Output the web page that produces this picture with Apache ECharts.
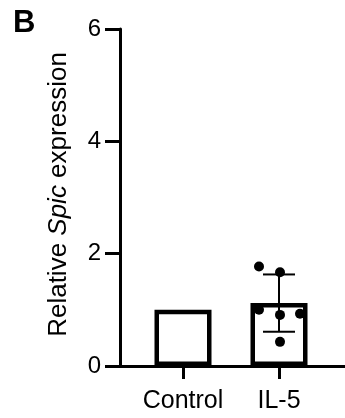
<!DOCTYPE html>
<html>
<head>
<meta charset="utf-8">
<script src="https://cdn.jsdelivr.net/npm/echarts@6/dist/echarts.min.js"></script>
<style>
  html, body { margin: 0; padding: 0; background: #fff; }
  #chart { width: 345px; height: 418px; }
</style>
</head>
<body>
<div id="chart"></div>
<script>
// Groups on the x axis
const categories = ['Control', 'IL-5'];
// Bar heights (group means) and standard deviations
const means = [1.0, 1.12];
const sds = [0, 0.51];
// Individual IL-5 replicates
const il5Points = [1.77, 1.67, 1.0, 0.91, 0.93, 0.43];
// Horizontal spread of the replicate dots (px)
const il5Jitter = [-20, 1, -20, 1, 21, 1];
// Y axis range and tick step
const yMin = 0, yMax = 6, yStep = 2;

const FONT = 'Liberation Sans, Arial, Helvetica, sans-serif';
const chart = echarts.init(document.getElementById('chart'), null, { renderer: 'canvas' });

const option = {
  animation: false,
  backgroundColor: '#fff',
  title: {
    text: 'B', left: 8, top: 3,
    textStyle: { fontFamily: FONT, fontWeight: 'bold', fontSize: 31, color: '#000' }
  },
  grid: [
    { left: 120, right: 0, top: 29, bottom: 52 },
    { left: 135, right: 18, top: 29, bottom: 52 }
  ],
  xAxis: [
    {
      gridIndex: 0, type: 'value', min: 0, max: 1,
      axisLine: { show: true, onZero: false, lineStyle: { color: '#000', width: 3 } },
      axisTick: { show: false }, axisLabel: { show: false }, splitLine: { show: false }
    },
    {
      gridIndex: 1, type: 'category', data: categories,
      axisLine: { show: false },
      axisTick: { show: true, alignWithLabel: true, length: 13, lineStyle: { color: '#000', width: 3 } },
      axisLabel: { interval: 0, margin: 23, fontFamily: FONT, fontSize: 25, color: '#000' },
      splitLine: { show: false }
    }
  ],
  yAxis: [
    {
      gridIndex: 0, type: 'value', min: yMin, max: yMax, interval: yStep,
      axisLine: { show: true, lineStyle: { color: '#000', width: 3 } },
      axisTick: { show: true, length: 15, lineStyle: { color: '#000', width: 3 } },
      axisLabel: { margin: 19, fontFamily: FONT, fontSize: 24, color: '#000' },
      splitLine: { show: false },
      name: '{n|Relative }{i|Spic}{n| expression}',
      nameLocation: 'middle', nameGap: 48, nameRotate: 90,
      nameTextStyle: {
        fontFamily: FONT, fontSize: 26, color: '#000', padding: [0, 0, 0, 6],
        rich: {
          n: { fontFamily: FONT, fontSize: 26, color: '#000' },
          i: { fontFamily: FONT, fontSize: 26, color: '#000', fontStyle: 'italic' }
        }
      }
    },
    {
      gridIndex: 1, type: 'value', min: yMin, max: yMax, show: false
    }
  ],
  series: [
    {
      type: 'bar', xAxisIndex: 1, yAxisIndex: 1,
      data: means, barWidth: 57,
      itemStyle: { color: '#fff', borderColor: '#000', borderWidth: 4.5 },
      z: 2
    },
    {
      type: 'custom', xAxisIndex: 1, yAxisIndex: 1, z: 3,
      data: categories.map((c, i) => [i, means[i], sds[i]]),
      renderItem: function (params, api) {
        const sd = api.value(2);
        if (!sd) return null;
        const x = api.value(0), m = api.value(1);
        const hi = api.coord([x, m + sd]);
        const lo = api.coord([x, m - sd]);
        const half = 16;
        const style = { stroke: '#000', lineWidth: 2 };
        return {
          type: 'group',
          children: [
            { type: 'line', shape: { x1: hi[0], y1: hi[1], x2: lo[0], y2: lo[1] }, style },
            { type: 'line', shape: { x1: hi[0] - half, y1: hi[1], x2: hi[0] + half, y2: hi[1] }, style },
            { type: 'line', shape: { x1: lo[0] - half, y1: lo[1], x2: lo[0] + half, y2: lo[1] }, style }
          ]
        };
      }
    },
    {
      type: 'scatter', xAxisIndex: 1, yAxisIndex: 1, z: 4,
      symbol: 'circle', symbolSize: 10,
      itemStyle: { color: '#000', opacity: 1 },
      data: il5Points.map((v, i) => ({ value: [1, v], symbolOffset: [il5Jitter[i], 0] }))
    }
  ]
};
chart.setOption(option);
</script>
</body>
</html>
